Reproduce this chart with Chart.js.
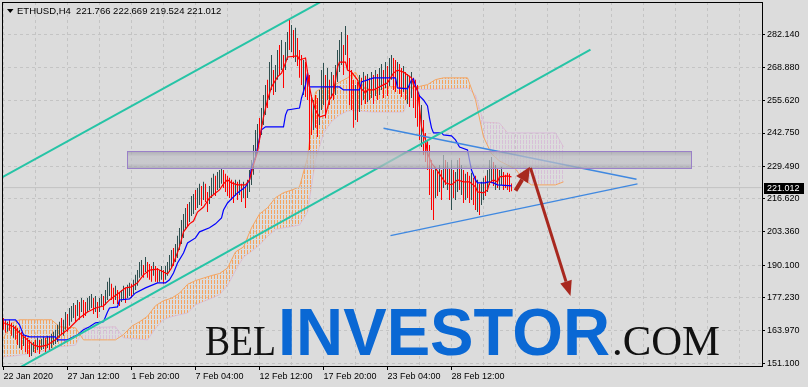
<!DOCTYPE html>
<html lang="en">
<head>
<meta charset="UTF-8">
<title>ETHUSD H4</title>
<script src="https://cdn.jsdelivr.net/npm/chart.js"></script>
<style>
  html, body { margin: 0; padding: 0; background: #dcdcdc; }
</style>
</head>
<body>
<canvas id="chart" width="808" height="387"></canvas>
<script>
// H4 bars, index 0 = 22 Jan 2020 00:00
const barHigh = [
  169.1,168.4,167.6,168.4,167.2,166.4,166.0,165.2,164.4,163.6,
  162.8,162.0,161.2,160.4,159.2,159.6,160.4,161.2,160.4,160.8,
  161.6,161.2,162.0,161.6,162.8,163.6,164.4,166.4,167.6,169.1,
  168.4,171.5,170.7,173.1,173.9,175.1,174.3,176.3,175.5,177.1,
  176.3,175.5,177.1,177.9,178.7,177.1,177.9,175.5,177.1,178.7,
  177.9,180.3,183.5,185.1,182.7,181.1,181.9,180.3,179.5,180.3,
  181.9,181.1,182.3,183.1,182.7,184.3,186.3,188.2,191.4,192.2,
  190.2,193.4,191.4,190.6,189.8,191.4,189.8,189.0,188.2,189.8,
  188.2,189.8,191.4,194.2,196.2,197.0,198.6,201.8,204.9,208.1,
  210.5,212.9,214.5,215.3,217.7,218.5,220.1,220.9,222.5,221.7,
  223.3,222.5,219.3,221.7,224.9,226.5,225.7,227.2,228.0,228.8,
  228.0,226.5,225.7,224.9,224.1,223.3,224.1,223.3,224.1,222.5,
  223.3,221.7,224.1,228.0,232.0,238.0,243.9,246.3,248.7,252.7,
  257.9,261.9,263.9,271.0,273.8,267.8,269.8,275.8,277.8,279.8,
  273.8,279.0,283.0,287.7,285.7,283.8,284.6,280.6,275.8,273.8,
  271.8,271.0,267.8,265.8,257.9,255.9,257.9,256.7,259.9,267.8,
  270.6,265.8,268.6,263.9,267.0,265.8,269.8,275.8,279.8,283.0,
  277.8,285.3,281.8,272.6,267.8,263.9,261.9,263.1,265.8,264.7,
  267.0,265.5,266.2,264.7,267.0,265.8,267.8,266.2,268.6,270.2,
  267.8,271.0,269.4,272.6,273.8,272.6,271.8,271.0,270.2,268.6,
  269.4,267.0,266.2,265.5,267.0,264.7,263.9,261.9,257.9,253.9,
  247.9,242.8,240.0,238.0,232.0,228.0,228.8,227.2,230.0,228.0,
  234.0,232.0,231.2,228.8,232.0,228.0,227.2,232.0,232.8,230.0,
  228.0,226.5,227.2,225.7,226.9,224.9,225.7,224.1,222.5,223.3,
  224.9,225.7,228.0,232.0,233.2,231.2,230.0,228.8,228.0,229.2,
  227.2,226.1,226.9,226.5,222.669
];
const barLow = [
  164.4,163.2,163.6,164.0,162.0,161.2,160.4,158.4,157.2,156.4,
  158.0,155.6,154.8,153.6,154.0,155.6,155.2,156.4,154.8,156.4,
  156.8,155.6,157.2,156.4,157.2,158.4,158.8,159.6,161.2,162.4,
  162.0,164.4,163.6,166.0,167.6,169.1,167.6,169.9,168.4,171.5,
  169.1,169.9,171.5,172.3,173.1,170.7,171.5,169.1,171.5,173.9,
  172.3,174.3,176.3,177.9,176.3,174.7,176.3,174.7,173.9,175.5,
  176.3,175.1,177.1,177.9,177.1,178.7,180.3,181.9,185.1,185.9,
  185.1,187.4,185.1,184.3,183.5,185.9,183.5,183.1,183.5,184.3,
  182.7,184.3,185.9,187.4,189.0,189.8,191.4,193.0,196.2,198.6,
  201.0,204.2,205.7,207.3,209.7,210.5,212.1,212.9,214.1,213.7,
  216.1,215.3,211.3,214.5,216.9,218.5,217.7,220.1,220.9,222.5,
  220.9,219.3,217.7,216.9,216.1,214.9,217.7,216.1,218.1,215.3,
  216.9,212.9,216.9,219.3,222.1,226.1,232.0,236.0,239.2,242.0,
  245.9,249.9,252.7,255.9,259.9,257.9,259.1,263.9,265.8,267.8,
  260.7,267.8,271.8,275.8,275.0,272.6,271.0,269.4,264.7,261.9,
  257.9,257.1,255.9,236.0,242.0,243.9,244.8,241.2,245.9,251.9,
  253.9,248.7,255.9,253.9,256.7,255.9,257.9,263.1,267.0,269.8,
  265.8,273.8,267.8,253.9,251.9,244.8,247.9,247.1,251.1,253.9,
  255.9,254.3,255.1,255.9,256.7,254.3,257.5,255.9,257.9,259.9,
  256.7,260.7,257.5,261.5,263.9,259.9,259.1,261.5,258.3,257.1,
  259.1,255.9,254.3,253.1,256.7,252.7,248.7,245.2,240.0,237.2,
  234.0,231.2,228.0,218.1,212.1,208.1,216.9,217.7,219.3,216.1,
  220.9,222.1,220.1,216.1,212.1,216.9,216.1,219.3,220.1,218.1,
  214.9,216.1,216.9,214.9,216.1,214.1,212.1,211.3,210.1,214.1,
  216.1,217.7,219.3,222.1,222.9,221.7,220.1,220.9,220.1,222.1,
  220.1,220.9,220.1,219.3,219.524
];
// u = bullish bar, d = bearish bar
const barDir = (
  'd d u d d u d d u d  u d d d u u d u d u  u d u d u u u u u d  u u d u u u d u d u  d d u u u d u d u u ' +
  'd u u u d d u d d u  u d u u d u u u u u  d u d d d u d d u u  d u u u u d u u u u  u u d u u u d u u d ' +
  'u d d u u u d u u u  d d d d d d u d u d  u d u u u u u u d u  u u d u u d u u d u  d u u d u d u d d d ' +
  'u d d d d u d d u u  u d u d u d u u u u  d u d d d d u d u d  u d u d u d u d u u  d u d u u d d u d d ' +
  'u d u d u d d d d u  d d d d d d u d u d  u d u d u d u u d u  d u d d u d d u d u  u d u u u d u d u u ' +
  'd d d d d'
).replace(/\s/g, '').split('');

// Ichimoku: [bar, price]
const tenkan = [[0,167.2],[5,165.6],[8,163.2],[12,160.4],[15,158.4],[18,157.6],[22,158.4],[26,160.4],[28,162.0],[32,164.4],
  [35,166.7],[38,169.1],[42,171.5],[46,173.1],[50,173.9],[53,176.3],[57,178.7],[61,181.1],[64,181.5],[67,183.1],
  [70,186.3],[73,188.2],[77,188.6],[80,187.4],[82,186.6],[84,189.0],[86,193.0],[88,197.4],[90,203.4],[93,206.6],
  [95,207.7],[97,211.3],[100,213.3],[103,216.9],[106,218.9],[108,220.1],[110,222.5],[112,224.1],[114,222.9],[117,222.1],
  [121,222.1],[123,224.1],[125,230.0],[127,235.2],[128,240.0],[129,244.8],[130,249.1],[132,255.9],[134,261.1],[137,265.1],
  [139,266.6],[141,270.6],[142,273.0],[147,273.4],[148,271.8],[151,272.6],[152,267.0],[153,261.1],[154,257.1],[156,251.9],
  [158,249.1],[161,249.9],[163,255.9],[165,258.7],[167,269.0],[168,271.0],[171,271.0],[172,267.8],[174,267.0],[177,263.9],
  [178,261.1],[181,258.7],[182,259.9],[185,259.9],[188,261.1],[192,262.7],[195,266.6],[197,267.8],[200,267.0],[202,265.8],
  [204,264.7],[205,261.9],[207,259.9],[208,253.1],[209,245.2],[211,240.0],[212,234.8],[214,230.8],[216,228.8],[219,225.3],
  [221,222.9],[224,222.1],[227,224.1],[230,223.3],[233,223.3],[236,221.3],[237,219.3],[240,218.9],[242,220.1],[243,222.9],
  [245,224.1],[247,223.3],[248,225.3],[252,225.7],[254,225.3]];
const kijun = [[0,168.4],[6,168.4],[8,166.4],[10,162.4],[13,161.6],[26,161.6],[27,160.4],[32,160.4],[37,162.4],[40,164.4],
  [43,165.6],[46,167.2],[50,167.6],[52,171.5],[53,173.1],[57,173.5],[58,176.3],[63,176.7],[66,179.1],[71,181.1],
  [77,183.1],[81,183.1],[83,184.3],[85,187.0],[87,191.0],[90,195.0],[92,199.0],[96,201.0],[98,203.4],[103,205.0],
  [106,206.6],[109,208.9],[110,212.1],[112,214.9],[114,216.5],[117,218.9],[121,221.3],[123,224.1],[124,229.2],[126,233.2],
  [127,236.8],[128,240.8],[129,244.0],[131,245.2],[140,245.2],[141,249.9],[142,251.9],[148,252.7],[149,256.7],[151,261.9],
  [152,266.6],[153,261.1],[168,261.1],[170,259.9],[178,259.9],[179,263.1],[185,264.7],[196,264.7],[197,260.7],[202,260.3],
  [204,263.9],[205,264.3],[206,261.5],[208,257.5],[210,255.9],[212,253.5],[213,248.7],[214,244.8],[215,242.8],[219,242.8],
  [220,242.0],[224,241.6],[226,240.0],[228,237.2],[232,236.0],[233,232.0],[234,228.0],[236,224.1],[237,222.9],[241,222.9],
  [242,223.3],[245,222.9],[247,222.1],[254,221.7]];

// cloud, one value every 4 bars from bar 0 to bar 280
const cloudStep = 4;
const spanA = [161.2,167.0,168.4,168.4,168.4,168.4,168.4,165.6,165.4,165.2,160.4,160.4,160.4,160.4,160.4,
  162.5,165.8,167.6,169.8,174.0,176.0,177.0,179.0,182.5,184.0,185.0,186.0,186.8,189.0,195.4,197.4,
  205.0,210.5,213.0,217.0,219.0,220.0,221.3,233.0,259.1,261.1,261.1,263.0,264.7,267.0,261.1,259.9,
  259.9,261.2,261.2,260.7,261.0,261.3,262.0,264.0,264.7,264.7,264.7,264.7,256.0,241.2,234.5,231.6,
  230.0,228.4,224.2,222.1,222.1,222.1,222.1,223.3];
const spanB = [153.6,153.9,154.3,154.8,155.3,155.9,156.9,157.7,158.0,158.3,165.2,165.3,165.4,165.5,165.6,
  161.2,161.0,160.7,160.4,165.0,168.5,169.6,170.4,171.1,174.3,175.7,177.0,178.4,182.0,188.0,193.4,
  195.6,198.2,201.6,204.4,205.0,205.5,206.1,211.3,232.0,242.6,247.3,249.9,251.5,251.7,251.4,251.1,
  251.1,251.1,251.1,251.1,259.9,260.0,260.1,260.2,260.3,260.4,260.5,260.7,257.9,247.1,246.9,246.7,
  242.8,242.8,242.8,242.8,242.8,242.8,242.8,237.2];

// axes
const xTickBars = [0, 32, 64, 96, 128, 160, 192, 224];
const xTickLabels = ['22 Jan 2020', '27 Jan 12:00', '1 Feb 20:00', '7 Feb 04:00', '12 Feb 12:00', '17 Feb 20:00', '23 Feb 04:00', '28 Feb 12:00'];
const yTickValues = [151.1, 163.97, 177.23, 190.1, 203.36, 216.62, 229.49, 242.75, 255.62, 268.88, 282.14];
const symbolInfo = 'ETHUSD,H4  221.766 222.669 219.524 221.012';
const lastPrice = 221.012;

// drawn objects: [bar, price]
const channelUpper = [[-2, 224.5], [200, 313.1]];
const channelLower = [[-2, 144.9], [293.5, 275.9]];
const triangleUpper = [[190, 244.6], [316.5, 224.3]];
const triangleLower = [[193.5, 201.9], [317, 222.5]];
const zoneBars = [61.5, 343.5];
const zonePrices = [235.6, 228.7];
const arrowShort = [[256, 219.8], [263.2, 229.3]];
const arrowLong = [[263.5, 228.8], [283.5, 177.9]];

Chart.defaults.font.family = '"Liberation Sans", Arial, sans-serif';

const pts = list => list.map(p => ({ x: p[0], y: p[1] }));
const cloudPts = list => list.map((v, i) => ({ x: i * cloudStep, y: v }));

// dotted vertical hatch like the terminal's cloud histogram
function hatch(color) {
  const c = document.createElement('canvas');
  c.width = 3; c.height = 5;
  const g = c.getContext('2d');
  g.fillStyle = color;
  g.fillRect(1, 0, 1, 4);
  return g.createPattern(c, 'repeat');
}

function line(data, color, width, order) {
  return { type: 'line', data: data, borderColor: color, borderWidth: width, pointRadius: 0, tension: 0, fill: false, order: order };
}

function arrow(ctx, xs, ys, pts2, width, headLen, headHalf) {
  const x1 = xs.getPixelForValue(pts2[0][0]), y1 = ys.getPixelForValue(pts2[0][1]);
  const x2 = xs.getPixelForValue(pts2[1][0]), y2 = ys.getPixelForValue(pts2[1][1]);
  const a = Math.atan2(y2 - y1, x2 - x1);
  const bx = x2 - headLen * Math.cos(a), by = y2 - headLen * Math.sin(a);
  ctx.strokeStyle = '#a8281f';
  ctx.fillStyle = '#a8281f';
  ctx.lineWidth = width;
  ctx.beginPath();
  ctx.moveTo(x1, y1);
  ctx.lineTo(bx, by);
  ctx.stroke();
  ctx.beginPath();
  ctx.moveTo(x2, y2);
  ctx.lineTo(bx + headHalf * Math.sin(a), by - headHalf * Math.cos(a));
  ctx.lineTo(bx - headHalf * Math.sin(a), by + headHalf * Math.cos(a));
  ctx.closePath();
  ctx.fill();
}

const decor = {
  id: 'decor',
  beforeDatasetsDraw(chart) {
    // watermark
    const ctx = chart.ctx;
    ctx.save();
    ctx.textBaseline = 'alphabetic';
    const parts = [
      { t: 'BEL', font: '42px "Liberation Serif"', color: '#111', x: 205, w: 71 },
      { t: 'INVESTOR', font: 'bold 67px "Liberation Sans"', color: '#0a68d4', x: 278, w: 332 },
      { t: '.COM', font: '42px "Liberation Serif"', color: '#111', x: 612, w: 108 }
    ];
    parts.forEach(p => {
      ctx.font = p.font;
      ctx.fillStyle = p.color;
      const m = ctx.measureText(p.t).width;
      ctx.save();
      ctx.translate(p.x, 355);
      ctx.scale(p.w / m, 1);
      ctx.fillText(p.t, 0, 0);
      ctx.restore();
    });
    ctx.restore();
  },
  afterDatasetsDraw(chart) {
    const ctx = chart.ctx, xs = chart.scales.x, ys = chart.scales.y, ca = chart.chartArea;
    ctx.save();
    ctx.beginPath();
    ctx.rect(ca.left, ca.top, ca.right - ca.left, ca.bottom - ca.top);
    ctx.clip();
    // resistance zone
    const zx1 = Math.round(xs.getPixelForValue(zoneBars[0])) + 0.5;
    const zx2 = Math.round(xs.getPixelForValue(zoneBars[1])) + 0.5;
    const zy1 = Math.round(ys.getPixelForValue(zonePrices[0])) + 0.5;
    const zy2 = Math.round(ys.getPixelForValue(zonePrices[1])) + 0.5;
    const g = ctx.createLinearGradient(0, zy1, 0, zy2);
    g.addColorStop(0, 'rgba(160,160,168,0.75)');
    g.addColorStop(0.3, 'rgba(192,192,198,0.7)');
    g.addColorStop(0.7, 'rgba(192,192,198,0.7)');
    g.addColorStop(1, 'rgba(160,160,168,0.75)');
    ctx.fillStyle = g;
    ctx.fillRect(zx1, zy1, zx2 - zx1, zy2 - zy1);
    ctx.strokeStyle = '#9a80c8';
    ctx.lineWidth = 1;
    ctx.strokeRect(zx1, zy1, zx2 - zx1, zy2 - zy1);
    // arrows
    arrow(ctx, xs, ys, arrowShort, 4, 15, 7);
    arrow(ctx, xs, ys, arrowLong, 3, 15, 6);
    ctx.restore();
  },
  afterDraw(chart) {
    const ctx = chart.ctx, ca = chart.chartArea, ys = chart.scales.y;
    ctx.save();
    // frame
    ctx.strokeStyle = '#000';
    ctx.lineWidth = 1;
    ctx.strokeRect(ca.left + 0.5, ca.top + 0.5, ca.right - ca.left, ca.bottom - ca.top);
    // symbol header
    ctx.fillStyle = '#000';
    ctx.beginPath();
    ctx.moveTo(7, 9); ctx.lineTo(13.5, 9); ctx.lineTo(10.25, 13); ctx.closePath();
    ctx.fill();
    ctx.font = '9.5px "Liberation Sans"';
    ctx.textBaseline = 'alphabetic';
    ctx.fillText(symbolInfo, 17, 14);
    // last price tag
    const yp = Math.round(ys.getPixelForValue(lastPrice));
    ctx.fillStyle = '#000';
    ctx.fillRect(764, yp - 5, 40, 11);
    ctx.fillStyle = '#fff';
    ctx.font = '9px "Liberation Sans"';
    ctx.textBaseline = 'middle';
    ctx.fillText(lastPrice.toFixed(3), 767, yp + 0.5);
    ctx.restore();
  }
};

const lastBar = barHigh.length - 1;

new Chart(document.getElementById('chart'), {
  type: 'bar',
  data: {
    datasets: [
      line(pts(channelUpper), '#26c4a6', 2, 0),
      line(pts(channelLower), '#26c4a6', 2, 0),
      line(pts(triangleUpper), '#3f88e0', 1.5, 0),
      line(pts(triangleLower), '#3f88e0', 1.5, 0),
      line(pts(tenkan), '#ff0000', 1.2, 1),
      line(pts(kijun), '#0000ff', 1.2, 1),
      {
        label: 'ETHUSD',
        data: barHigh.map((h, i) => ({ x: i, y: [barLow[i], h] })),
        backgroundColor: c => barDir[c.dataIndex] === 'u' ? '#2f4f4f' : '#ff0000',
        barThickness: 1,
        inflateAmount: 0,
        borderWidth: 0,
        order: 2
      },
      line(pts([[0, lastPrice], [379, lastPrice]]), '#c2c2c2', 1, 2.5),
      Object.assign(line(cloudPts(spanA), '#f4a460', 1, 3), {
        fill: { target: '+1', above: hatch('#f4a460'), below: hatch('#d8bfd8') }
      }),
      line(cloudPts(spanB), '#d8bfd8', 1, 3)
    ]
  },
  options: {
    responsive: false,
    animation: false,
    devicePixelRatio: 1,
    events: [],
    layout: { padding: { left: 2, top: 2, right: 0, bottom: 0 } },
    plugins: { legend: { display: false }, tooltip: { enabled: false } },
    scales: {
      x: {
        type: 'linear',
        min: -0.75,
        max: 379.25,
        offset: false,
        afterBuildTicks: s => {
          const t = [];
          for (let v = 0; v <= 368; v += 16) t.push({ value: v });
          s.ticks = t;
        },
        afterFit: s => { s.height = 21; s.paddingLeft = 0; s.paddingRight = 0; },
        ticks: {
          autoSkip: false,
          maxRotation: 0,
          align: 'start',
          padding: 1,
          color: '#000',
          font: { size: 9 },
          callback: v => {
            const k = xTickBars.indexOf(v);
            return k >= 0 && v <= lastBar ? xTickLabels[k] : '';
          }
        },
        grid: {
          offset: false,
          color: '#c4c4c4',
          lineWidth: 1,
          tickLength: 4,
          tickColor: c => (c.tick && xTickBars.includes(c.tick.value)) ? '#000' : 'rgba(0,0,0,0)'
        },
        border: { display: true, color: '#000', dash: [3, 3] }
      },
      y: {
        type: 'linear',
        position: 'right',
        min: 150.0,
        max: 294.9,
        afterBuildTicks: s => { s.ticks = yTickValues.map(v => ({ value: v })); },
        afterFit: s => { s.width = 46; s.paddingTop = 0; s.paddingBottom = 0; },
        ticks: {
          padding: 2,
          color: '#000',
          font: { size: 9 },
          callback: v => v.toFixed(3)
        },
        grid: { color: '#c4c4c4', lineWidth: 1, tickLength: 3, tickColor: '#000' },
        border: { display: true, color: '#000', dash: [3, 3] }
      }
    }
  },
  plugins: [decor]
});
</script>
</body>
</html>
